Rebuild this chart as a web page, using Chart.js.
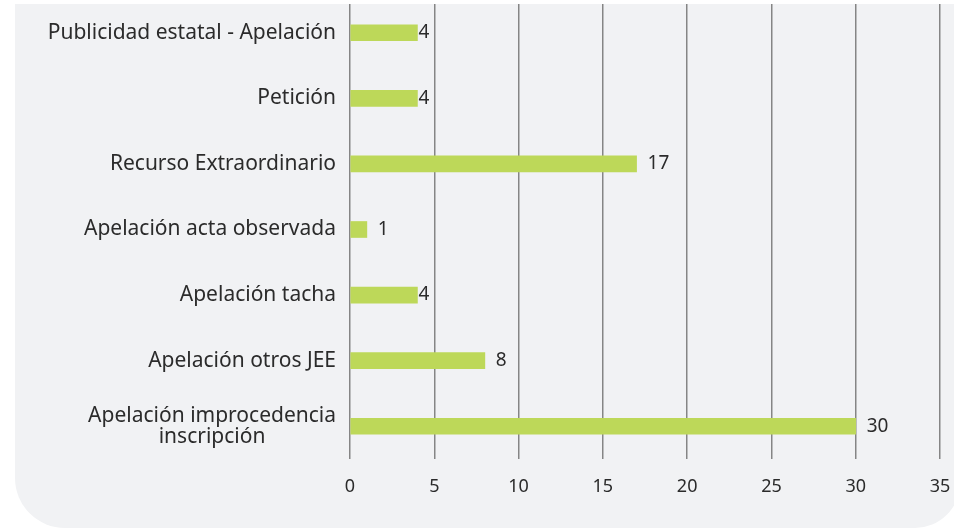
<!DOCTYPE html>
<html>
<head>
<meta charset="utf-8">
<script src="https://cdn.jsdelivr.net/npm/chart.js@4.4.1/dist/chart.umd.min.js"></script>
<style>
  html, body { margin: 0; padding: 0; background: #ffffff; }
  #wrap { position: relative; width: 954px; height: 529px; overflow: hidden; }
  #panel {
    position: absolute; left: 15px; top: 4px; width: 945px; height: 524px;
    background: #f1f2f4; border-radius: 0 0 45px 50px;
  }
  #chart { position: absolute; left: 0; top: 0; }
  #strip { position: absolute; left: 0; top: 0; width: 954px; height: 4px; background: #ffffff; }
</style>
</head>
<body>
<div id="wrap">
  <div id="panel"></div>
  <canvas id="chart" width="954" height="529"></canvas>
  <div id="strip"></div>
</div>
<script>
const categories = [
    "Publicidad estatal - Apelación",
    "Petición",
    "Recurso Extraordinario",
    "Apelación acta observada",
    "Apelación tacha",
    "Apelación otros JEE",
    ["Apelación improcedencia", "inscripción"],
];
const values = [4, 4, 17, 1, 4, 8, 30];
const xTicks = [0, 5, 10, 15, 20, 25, 30, 35];

const labelFont = "'Noto Sans'";

// y labels: right-aligned block, lines centered inside it
const yLabels = {
    id: "yLabels",
    afterDraw(chart) {
        const ctx = chart.ctx;
        const y = chart.scales.y;
        const right = chart.chartArea.left - 14;
        ctx.save();
        ctx.font = "21px " + labelFont;
        ctx.fillStyle = "#2b2b2b";
        ctx.textBaseline = "middle";
        ctx.textAlign = "center";
        categories.forEach((c, i) => {
            const lines = Array.isArray(c) ? c : [c];
            const w = Math.max(...lines.map(l => ctx.measureText(l).width));
            const cy = y.getPixelForValue(i);
            const lh = 21;
            lines.forEach((l, k) => {
                ctx.fillText(l, right - w / 2, cy + (k - (lines.length - 1) / 2) * lh);
            });
        });
        ctx.restore();
    },
};

// value labels at bar ends
const valueLabels = {
    id: "valueLabels",
    afterDatasetsDraw(chart) {
        const ctx = chart.ctx;
        const x = chart.scales.x;
        const meta = chart.getDatasetMeta(0);
        ctx.save();
        ctx.font = "19px " + labelFont;
        ctx.fillStyle = "#2b2b2b";
        ctx.textBaseline = "middle";
        ctx.textAlign = "left";
        meta.data.forEach((bar, i) => {
            const txt = String(values[i]);
            const w = ctx.measureText(txt).width;
            let lx = bar.x + 11;
            const hit = xTicks.some(t => {
                const gx = x.getPixelForValue(t);
                return gx > lx - 2 && gx < lx + w + 2;
            });
            if (hit) lx = bar.x + 1;
            ctx.fillText(txt, lx, bar.y);
        });
        ctx.restore();
    },
};

new Chart(document.getElementById("chart"), {
    type: "bar",
    data: {
        labels: categories,
        datasets: [
            {
                data: values,
                backgroundColor: "#bdd859",
                borderWidth: 0,
                barThickness: 16,
            },
        ],
    },
    options: {
        indexAxis: "y",
        responsive: false,
        animation: false,
        layout: { padding: { top: 0, right: 14, bottom: 0, left: 0 } },
        plugins: {
            legend: { display: false },
            tooltip: { enabled: false },
        },
        scales: {
            x: {
                min: 0,
                max: 35,
                afterBuildTicks(scale) {
                    scale.ticks = xTicks.map(v => ({ value: v }));
                },
                afterFit(scale) {
                    scale.height = 70;
                    scale.paddingLeft = 0;
                    scale.paddingRight = 0;
                },
                grid: {
                    color: "#858585",
                    lineWidth: 1.5,
                    drawTicks: false,
                },
                border: { display: false },
                ticks: {
                    padding: 17,
                    color: "#2b2b2b",
                    font: { family: "Noto Sans", size: 18 },
                },
            },
            y: {
                afterFit(scale) {
                    scale.width = 350;
                },
                grid: { display: false },
                border: { display: false },
                ticks: { display: false },
            },
        },
    },
    plugins: [yLabels, valueLabels],
});
</script>
</body>
</html>
